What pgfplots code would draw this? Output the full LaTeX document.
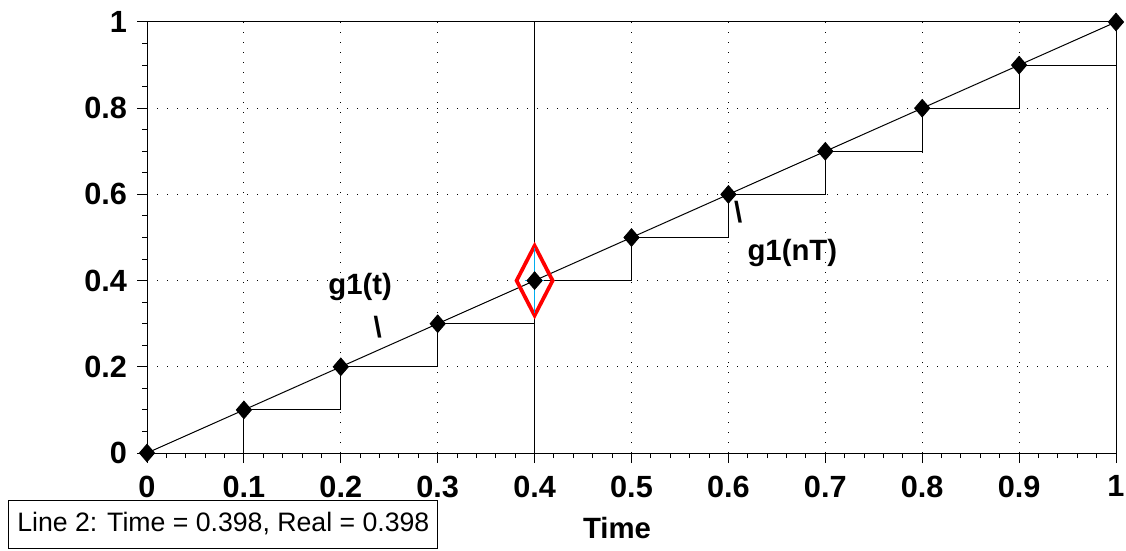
\documentclass[border=0pt]{standalone}
\usepackage{fontspec}
\setmainfont{Liberation Sans}
\usepackage{pgfplots}
\pgfplotsset{compat=1.18}
\begin{document}
\begin{tikzpicture}[x=0.75pt,y=0.75pt]
\useasboundingbox (0,0) rectangle (1126,550);
\begin{axis}[
  at={(110.25pt,72.75pt)}, anchor=south west,
  scale only axis, width=726.75pt, height=323.25pt,
  xmin=0, xmax=1, ymin=0, ymax=1, clip=false,
  xtick={0,0.1,0.2,0.3,0.4,0.5,0.6,0.7,0.8,0.9,1},
  xticklabels={0,0.1,0.2,0.3,0.4,0.5,0.6,0.7,0.8,0.9,1},
  ytick={0,0.2,0.4,0.6,0.8,1},
  yticklabels={0,0.2,0.4,0.6,0.8,1},
  minor x tick num=4, minor y tick num=3,
  xtick pos=left, ytick pos=left,
  tick align=outside,
  major tick length=7.5pt, minor tick length=3.75pt,
  grid=major,
  major grid style={black, line width=0.75pt, dash pattern=on 0.75pt off 6.75pt},
  axis line style={black, line width=0.75pt},
  tick style={black, line width=0.75pt},
  tick label style={font=\fontsize{23}{24}\selectfont\bfseries},
  xticklabel style={yshift=-6pt},
  yticklabel style={xshift=-4pt},
  /pgf/number format/assume math mode=true,
]
\addplot[black, line width=0.75pt, const plot mark left] coordinates {
(0,0)(0.1,0.1)(0.2,0.2)(0.3,0.3)(0.4,0.4)(0.5,0.5)(0.6,0.6)(0.7,0.7)(0.8,0.8)(0.9,0.9)(1,1)};
\addplot[black, line width=0.75pt] coordinates {(0.4,0)(0.4,1)};
\addplot[black, line width=0.75pt, mark=diamond*, mark size=6.5pt, mark options={solid, fill=black, xscale=1.15}] coordinates {
(0,0)(0.1,0.1)(0.2,0.2)(0.3,0.3)(0.4,0.4)(0.5,0.5)(0.6,0.6)(0.7,0.7)(0.8,0.8)(0.9,0.9)(1,1)};
\addplot[red, line width=2.8pt, mark=none, line join=miter] coordinates {
(0.4,0.481)(0.4186,0.4)(0.4,0.319)(0.3814,0.4)} -- cycle;
\addplot[cyan, line width=1pt, mark=none] coordinates {(0.4,0.325)(0.4,0.475)};
\addplot[cyan, line width=1.2pt, mark=none] coordinates {(0.39,0.4)(0.41,0.4)};
\node[font=\fontsize{22}{24}\selectfont\bfseries] at (axis cs:0.22,0.385) {g1(t)};
\node[font=\fontsize{22}{24}\selectfont\bfseries] at (axis cs:0.238,0.292) {\textbackslash};
\node[font=\fontsize{22}{24}\selectfont\bfseries] at (axis cs:0.666,0.464) {g1(nT)};
\node[font=\fontsize{22}{24}\selectfont\bfseries] at (axis cs:0.61,0.559) {\textbackslash};
\node[font=\fontsize{22}{24}\selectfont\bfseries] at (axis cs:0.485,-0.174) {Time};
\end{axis}
\draw[fill=white, line width=0.75pt] (8,2) rectangle (437,50);
\node[anchor=west, font=\fontsize{20}{22}\selectfont, inner sep=0pt] at (17,26) {Line 2: Time = 0.398, Real = 0.398};
\end{tikzpicture}
\end{document}
